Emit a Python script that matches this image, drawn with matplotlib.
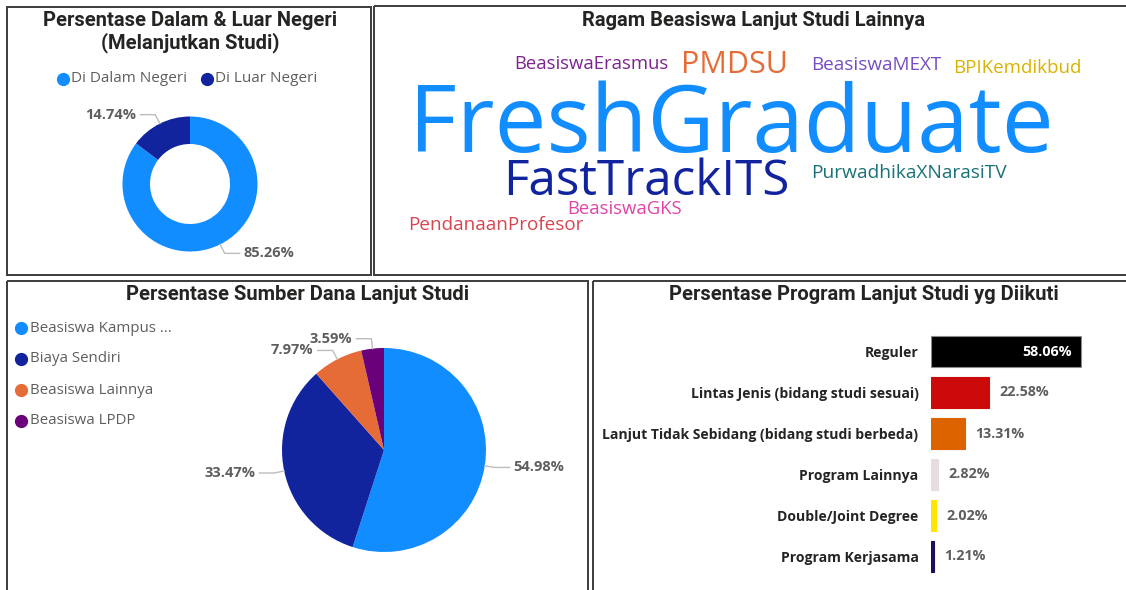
import matplotlib
matplotlib.use('Agg')
import matplotlib.pyplot as plt
from matplotlib.patches import Rectangle
from matplotlib.transforms import offset_copy
import numpy as np

W, H = 1126, 590
TXT = ['Open Sans', 'DejaVu Sans']
TTL = ['Roboto', 'DejaVu Sans']
GRAY = '#605E5C'
DARK = '#252423'

# panel 1: dalam / luar negeri
lokasi = ['Di Dalam Negeri', 'Di Luar Negeri']
lokasi_pct = [85.26, 14.74]
lokasi_warna = ['#118DFF', '#12239E']

# panel 2: word cloud
kata = ['FreshGraduate', 'FastTrackITS', 'PMDSU', 'BeasiswaErasmus', 'BeasiswaGKS',
        'BeasiswaMEXT', 'BPIKemdikbud', 'PendanaanProfesor', 'PurwadhikaXNarasiTV']
kata_warna = ['#118DFF', '#12239E', '#E66C37', '#7E2490', '#E044A7',
              '#744EC2', '#D9B300', '#D64550', '#197278']
# where each word sits in the cloud: left, right, baseline (px)
kata_box = [(409, 1053, 152), (503, 789, 195), (681, 788, 73), (514, 667, 69), (567, 681, 214),
            (811, 941, 70), (953, 1081, 73), (408, 582, 230), (811, 1006, 178)]

# panel 3: sumber dana
dana = ['Beasiswa Kampus ...', 'Biaya Sendiri', 'Beasiswa Lainnya', 'Beasiswa LPDP']
dana_pct = [54.98, 33.47, 7.97, 3.59]
dana_warna = ['#118DFF', '#12239E', '#E66C37', '#6B007B']

# panel 4: program lanjut studi
program = ['Reguler', 'Lintas Jenis (bidang studi sesuai)',
           'Lanjut Tidak Sebidang (bidang studi berbeda)', 'Program Lainnya',
           'Double/Joint Degree', 'Program Kerjasama']
program_pct = [58.06, 22.58, 13.31, 2.82, 2.02, 1.21]
program_warna = ['#000000', '#CC0A0A', '#DD6200', '#E6DEDE', '#FFE600', '#1E0F5A']


fig = plt.figure(figsize=(W/100, H/100), dpi=100)
fig.patch.set_facecolor('white')
ax0 = fig.add_axes([0, 0, 1, 1])
ax0.set_xlim(0, W)
ax0.set_ylim(H, 0)
ax0.axis('off')

for x0, y0, x1, y1 in [(7, 7, 371, 275), (374, 6, 1135, 275), (7, 281, 588, 600), (593, 281, 1135, 600)]:
    ax0.add_patch(Rectangle((x0, y0), x1-x0, y1-y0, fill=False, ec='#3C3C3C', lw=1.4))


def px_ax(x0, y0, x1, y1):
    return fig.add_axes([x0/W, 1-y1/H, (x1-x0)/W, (y1-y0)/H])


def pie_px(cx, cy, R, vals, cols, width=None):
    half = R + 70
    ax = px_ax(cx-half, cy-half, cx+half, cy+half)
    wp = dict(linewidth=0)
    if width:
        wp['width'] = width
    wedges, _ = ax.pie(vals, colors=cols, radius=R, startangle=90, counterclock=False, wedgeprops=wp)
    ax.set_xlim(-half, half)
    ax.set_ylim(-half, half)
    ax.axis('off')
    for w, v in zip(wedges, vals):
        a = np.deg2rad((w.theta1 + w.theta2)/2)
        s = 1 if np.cos(a) >= 0 else -1
        p0 = np.array([R*np.cos(a), R*np.sin(a)])
        p1 = np.array([(R+10)*np.cos(a), (R+10)*np.sin(a)])
        p2 = p1 + [s*15, 0]
        ax.plot([p0[0], p1[0], p2[0]], [p0[1], p1[1], p2[1]], color='#BDBDBD', lw=1, clip_on=False)
        ax.text(p2[0]+s*4, p2[1], '%.2f%%' % v, ha='left' if s > 0 else 'right', va='center',
                fontsize=10.5, fontweight='bold', color=GRAY, family=TXT)
    return ax


# ---- panel 1
ax0.text(190, 20, 'Persentase Dalam & Luar Negeri', ha='center', va='center',
         fontsize=14.5, fontweight='bold', color=DARK, family=TTL)
ax0.text(190, 43, '(Melanjutkan Studi)', ha='center', va='center',
         fontsize=14.5, fontweight='bold', color=DARK, family=TTL)
for (cx, tx), lab, c in zip([(63, 71), (207, 215)], lokasi, lokasi_warna):
    ax0.plot(cx, 79, 'o', ms=8.5, color=c)
    ax0.text(tx, 79, lab, ha='left', va='center', fontsize=11, color=GRAY, family=TXT)
pie_px(190, 184, 67.5, lokasi_pct, lokasi_warna, width=27.5)

# ---- panel 2
ax0.text(754, 21, 'Ragam Beasiswa Lanjut Studi Lainnya', ha='center', va='center',
         fontsize=14.5, fontweight='bold', color=DARK, family=TTL)
r = fig.canvas.get_renderer()
for w, c, (x0, x1, yb) in zip(kata, kata_warna, kata_box):
    t = ax0.text(x0, yb, w, ha='left', va='baseline', fontsize=20, color=c, family=TXT)
    bb = t.get_window_extent(renderer=r)
    t.set_fontsize(20*(x1-x0)/bb.width)

# ---- panel 3
ax0.text(298, 295, 'Persentase Sumber Dana Lanjut Studi', ha='center', va='center',
         fontsize=14.5, fontweight='bold', color=DARK, family=TTL)
for i, (lab, c) in enumerate(zip(dana, dana_warna)):
    yy = 328 + i*31
    ax0.plot(21, yy, 'o', ms=8.5, color=c)
    ax0.text(30, yy, lab, ha='left', va='center', fontsize=10.8, color=GRAY, family=TXT)
pie_px(384, 450, 102, dana_pct, dana_warna)

# ---- panel 4
ax0.text(864, 294, 'Persentase Program Lanjut Studi yg Diikuti', ha='center', va='center',
         fontsize=14.5, fontweight='bold', color=DARK, family=TTL)
axb = px_ax(931, 331, 1120, 577)
y = np.arange(len(program))
edges = ['#8A8A8A'] + program_warna[1:]
axb.barh(y, program_pct, height=0.76, color=program_warna, edgecolor=edges, lw=0.8)
axb.set_ylim(len(program)-0.5, -0.5)
axb.set_xlim(0, max(program_pct)*189/150)
axb.set_yticks(y, program)
for lab in axb.get_yticklabels():
    lab.set_fontweight('bold')
    lab.set_fontsize(10.1)
    lab.set_color(DARK)
    lab.set_family(TXT)
axb.tick_params(axis='y', length=0, pad=9)
axb.set_xticks([])
for sp in axb.spines.values():
    sp.set_visible(False)
axb.patch.set_alpha(0)
inside = offset_copy(axb.transData, fig=fig, x=-9, y=0, units='dots')
outside = offset_copy(axb.transData, fig=fig, x=10, y=0, units='dots')
for i, v in enumerate(program_pct):
    if v > 40:
        axb.text(v, i, '%.2f%%' % v, transform=inside, ha='right', va='center',
                 fontsize=10.3, fontweight='bold', color='white', family=TXT)
    else:
        axb.text(v, i, '%.2f%%' % v, transform=outside, ha='left', va='center',
                 fontsize=10.3, fontweight='bold', color=GRAY, family=TXT)

fig.savefig('out.png', dpi=100)
